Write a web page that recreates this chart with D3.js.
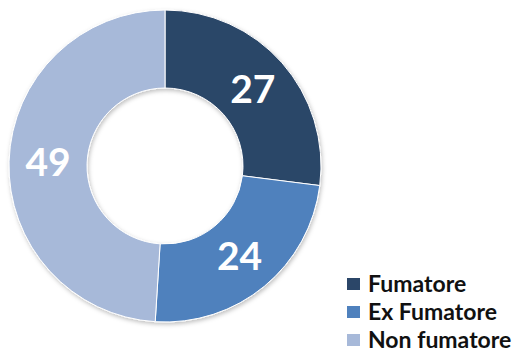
<!DOCTYPE html>
<html>
<head>
    <meta charset="utf-8"/>
    <style>
        body{ margin: 0; background: #fff; }
        text{ font-family: Lato, "Open Sans", sans-serif; font-weight: 700; }
        .slice-label{ fill: #fff; font-size: 39px; }
        .legend-label{ fill: #111; font-size: 23px; }
    </style>
</head>
<body>
<svg id="graph"></svg>

<script src="https://d3js.org/d3.v7.min.js"></script>
<script>
    // Data
    const categories = ['Fumatore', 'Ex Fumatore', 'Non fumatore'];
    const values = [27, 24, 49];
    const colors = ['#2b4668', '#4f81bd', '#a7b9d9'];

    var width = 517, height = 354;
    var cx = 165, cy = 166,
        outerR = 156, innerR = 78;

    var svg = d3.select('#graph')
        .attr('width', width)
        .attr('height', height);

    // soft shadow round the ring
    var defs = svg.append('defs');
    var f = defs.append('filter').attr('id', 'shadow')
        .attr('x', '-10%').attr('y', '-10%').attr('width', '120%').attr('height', '120%');
    f.append('feDropShadow')
        .attr('dx', 1).attr('dy', 2).attr('stdDeviation', 2)
        .attr('flood-color', '#000').attr('flood-opacity', 0.25);

    var color = d3.scaleOrdinal().domain(categories).range(colors);

    var pie = d3.pie().sort(null).value(function(d){ return d.v; });
    var arc = d3.arc().innerRadius(innerR).outerRadius(outerR);

    var data = categories.map(function(c, i){ return {name: c, v: values[i]}; });

    var g = svg.append('g')
        .attr('transform', 'translate(' + cx + ',' + cy + ')');

    g.append('g').attr('filter', 'url(#shadow)')
        .selectAll('path')
        .data(pie(data))
        .enter().append('path')
        .attr('d', arc)
        .attr('fill', function(d){ return color(d.data.name); })
        .attr('stroke', '#fff')
        .attr('stroke-width', 1);

    g.selectAll('.slice-label')
        .data(pie(data))
        .enter().append('text')
        .attr('class', 'slice-label')
        .attr('transform', function(d){ return 'translate(' + arc.centroid(d) + ')'; })
        .attr('text-anchor', 'middle')
        .attr('dy', '0.36em')
        .text(function(d){ return d.data.v; });

    // Legend
    var legend = svg.append('g')
        .attr('transform', 'translate(347,284)');

    var rows = legend.selectAll('g')
        .data(categories)
        .enter().append('g')
        .attr('transform', function(d, i){ return 'translate(0,' + (i * 28) + ')'; });

    rows.append('rect')
        .attr('x', 0).attr('y', -6)
        .attr('width', 13).attr('height', 12)
        .attr('fill', function(d){ return color(d); });

    rows.append('text')
        .attr('class', 'legend-label')
        .attr('x', 21)
        .attr('dy', '0.36em')
        .text(function(d){ return d; });
</script>
</body>
</html>
